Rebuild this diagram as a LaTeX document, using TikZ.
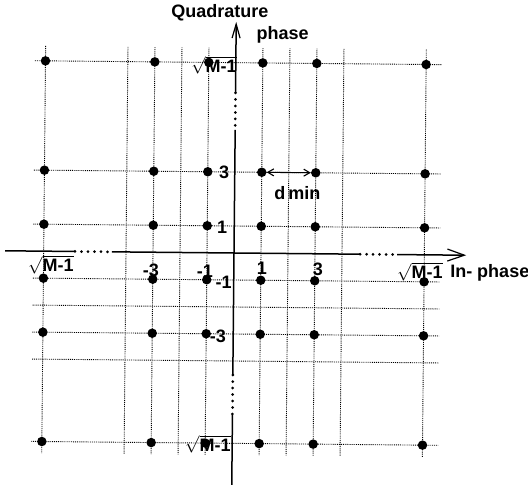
\documentclass[tikz,border=0pt]{standalone}
\usepackage{fontspec}
\setmainfont{Liberation Sans}
\usetikzlibrary{arrows.meta}
\begin{document}
\begin{tikzpicture}[x=27pt,y=27pt,
  gridline/.style={densely dotted, line width=0.9pt, black},
  pt/.style={circle, fill=black, inner sep=0pt, minimum size=9.5pt},
  axis/.style={line width=1.5pt},
  axdots/.style={line width=3pt, dash pattern=on 0pt off 6.5pt, line cap=round},
  lbl/.style={font=\fontsize{18}{21}\selectfont\bfseries, inner sep=0pt},
  harrow/.style={-{Straight Barb[length=17pt,width=12pt,line width=1.2pt]}},
  varrow/.style={-{Straight Barb[length=14pt,width=8pt,line width=1.2pt]}},
  darrow/.style={{Straight Barb[length=6pt,width=7pt]}-{Straight Barb[length=6pt,width=7pt]}, line width=1.1pt}
]
\useasboundingbox[fill=white] (-234pt,-234pt) rectangle (294pt,253pt);
\begin{scope}[rotate=-0.55]
% grid lines
\foreach \x in {-7.05,-4,-3,-2,-1,1,2,3,4,7.05}
  \draw[gridline] (\x,7.6) -- (\x,-7.48);
\foreach \y in {7.05,3,1,-1,-2,-3,-4,-7.05}
  \draw[gridline] (-7.44,\y) -- (7.63,\y);
% constellation points
\foreach \i/\x in {a/-7.05,b/-3,c/-1,d/1,e/3,f/7.05}
  \foreach \j/\y in {A/7.05,B/3,C/1,D/-1,E/-3,F/-7.05}
    \node[pt] (p\i\j) at (\x,\y) {};
% horizontal axis
\coordinate (xl) at (-8.48,0);
\coordinate (x1) at (-5.89,0);
\coordinate (x2) at (-4.52,0);
\coordinate (x3) at (4.67,0);
\coordinate (x4) at (6.04,0);
\coordinate (xr) at (8.6,0);
\draw[axis] (xl) -- (x1);
\draw[axdots] (x1) -- (x2);
\draw[axis] (x2) -- (x3);
\draw[axdots] (x3) -- (x4);
\draw[axis,harrow] (x4) -- (xr);
% vertical axis
\coordinate (yt) at (0,8.56);
\coordinate (y1) at (0,5.93);
\coordinate (y2) at (0,4.56);
\coordinate (y3) at (0,-4.52);
\coordinate (y4) at (0,-6.0);
\coordinate (yb) at (0,-8.59);
\draw[axis,varrow] (y1) -- (yt);
\draw[axdots] (y1) -- (y2);
\draw[axis] (y2) -- (y3);
\draw[axdots] (y3) -- (y4);
\draw[axis] (y4) -- (yb);
% d_min arrow
\draw[darrow] (pdB) -- (peB);
\node[lbl] (dmin) at (2.33,2.26) {d\,min};
% axis titles
\node[lbl] (quad) at (-0.61,8.89) {Quadrature};
\node[lbl] (phase) at (1.72,8.11) {phase};
\node[lbl] (inph) at (9.48,-0.63) {In- phase};
% vertical axis labels
\node[lbl,anchor=east] (qA) at (0.04,6.95) {$\sqrt{\mbox{M-1}}$};
\node[lbl,anchor=east] (qB) at (-0.2,3) {3};
\node[lbl,anchor=east] (qC) at (-0.26,0.96) {1};
\node[lbl,anchor=east] (qD) at (-0.07,-1.1) {-1};
\node[lbl,anchor=east] (qE) at (-0.26,-3.1) {-3};
\node[lbl,anchor=east] (qF) at (-0.05,-7.08) {$\sqrt{\mbox{M-1}}$};
% horizontal axis labels
\node[lbl] (ia) at (-6.78,-0.5) {$\sqrt{\mbox{M-1}}$};
\node[lbl] (ib) at (-3.07,-0.67) {-3};
\node[lbl] (ic) at (-1.07,-0.67) {-1};
\node[lbl] (id) at (1.04,-0.56) {1};
\node[lbl] (ie) at (3.11,-0.56) {3};
\node[lbl] (if) at (6.89,-0.63) {$\sqrt{\mbox{M-1}}$};
\end{scope}
\end{tikzpicture}
\end{document}
